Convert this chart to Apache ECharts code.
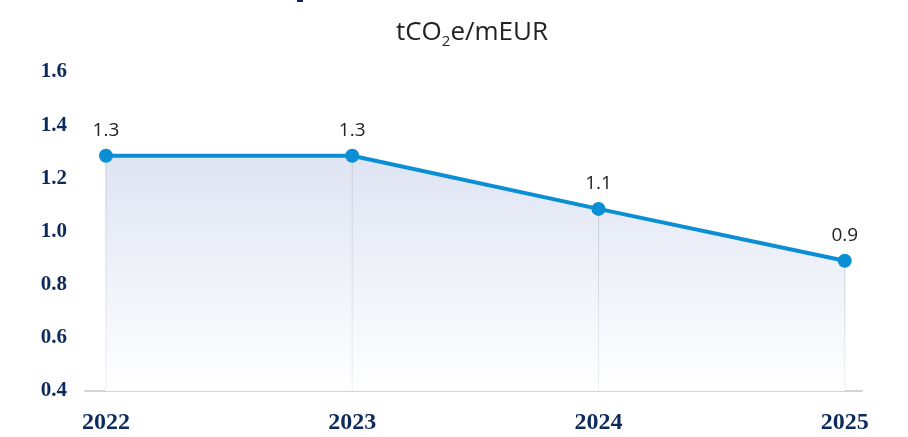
<!DOCTYPE html>
<html>
<head>
<meta charset="utf-8">
<script src="https://cdn.jsdelivr.net/npm/echarts@6/dist/echarts.min.js"></script>
<style>
  html, body { margin: 0; padding: 0; background: #fff; }
  #chart { width: 908px; height: 437px; }
</style>
</head>
<body>
<div id="chart"></div>
<script>
// data
const years = [2022, 2023, 2024, 2025];
const intensity = [1.285, 1.285, 1.085, 0.89];
const yTicks = [0.4, 0.6, 0.8, 1.0, 1.2, 1.4, 1.6];

const navy = '#0c2a5b';
const blue = '#0a8ed4';

const points = years.map((y, i) => [y, intensity[i]]);

let chart = echarts.init(document.getElementById('chart'));
chart.setOption({
    animation: false,
    title: {
        text: '{a|tCO}{s|2}{a|e/mEUR}',
        left: 467,
        top: 12,
        textAlign: 'center',
        textStyle: {
            rich: {
                a: { fontFamily: 'Open Sans', fontWeight: 'normal', fontSize: 26, color: '#222', lineHeight: 32 },
                s: { fontFamily: 'Open Sans', fontWeight: 'normal', fontSize: 15, color: '#222', lineHeight: 32, padding: [17, 0, 0, 0] }
            }
        }
    },
    graphic: [{
        type: 'rect',
        left: 297, top: 0,
        shape: { width: 6, height: 2 },
        style: { fill: navy }
    }],
    grid: { left: 85, right: 46, top: 72, bottom: 46 },
    xAxis: {
        type: 'value',
        min: 2021.915,
        max: 2025.07,
        splitLine: { show: false },
        axisTick: { show: false },
        axisLine: { show: true, lineStyle: { color: '#d4d4d4', width: 2 } },
        axisLabel: {
            customValues: years,
            margin: 20,
            fontFamily: 'Liberation Serif',
            fontWeight: 'bold',
            fontSize: 24,
            color: navy,
            formatter: v => String(v)
        }
    },
    yAxis: {
        type: 'value',
        min: 0.4,
        max: 1.6,
        interval: 0.2,
        splitLine: { show: false },
        axisLine: { show: false },
        axisTick: { show: false },
        axisLabel: {
            customValues: yTicks,
            margin: 18,
            fontFamily: 'Liberation Serif',
            fontWeight: 'bold',
            fontSize: 21,
            color: navy,
            formatter: v => v.toFixed(1)
        }
    },
    series: [
        {
            // area fill
            type: 'line',
            data: points,
            symbol: 'none',
            lineStyle: { width: 0 },
            z: 1,
            areaStyle: {
                opacity: 1,
                color: new echarts.graphic.LinearGradient(0, 0, 0, 1, [
                    { offset: 0, color: '#dfe4f3' },
                    { offset: 1, color: '#ffffff' }
                ])
            },
            silent: true
        },
        {
            // drop lines
            type: 'bar',
            data: points,
            barWidth: 1,
            clip: true,
            z: 2,
            itemStyle: {
                color: new echarts.graphic.LinearGradient(0, 0, 0, 1, [
                    { offset: 0, color: '#c9ccd6' },
                    { offset: 1, color: '#eef0f4' }
                ])
            },
            silent: true
        },
        {
            type: 'line',
            data: points,
            z: 3,
            symbol: 'circle',
            symbolSize: 14,
            lineStyle: { color: blue, width: 4 },
            itemStyle: { color: blue },
            label: {
                show: true,
                position: 'top',
                distance: 9,
                fontFamily: 'Open Sans',
                fontSize: 19,
                color: '#222',
                formatter: p => p.value[1].toFixed(1)
            }
        }
    ]
});
</script>
</body>
</html>
